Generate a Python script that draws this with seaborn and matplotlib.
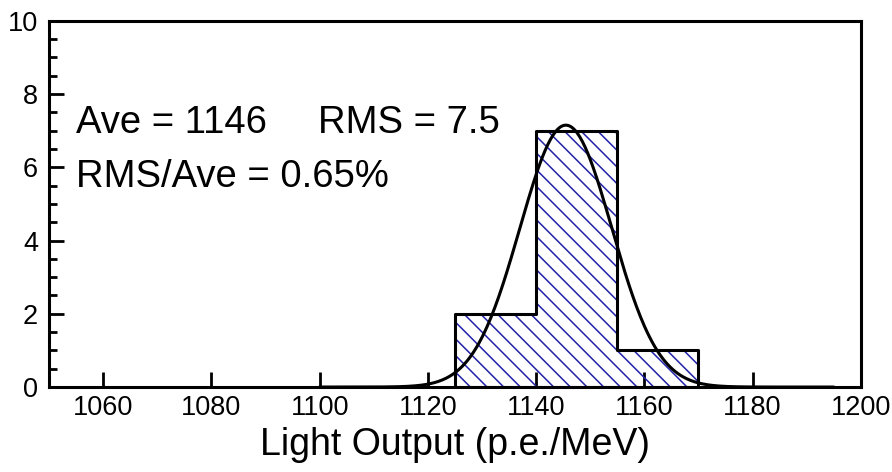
import numpy as np
import pandas as pd
import matplotlib
matplotlib.use("Agg")
import matplotlib.pyplot as plt
import seaborn as sns

# histogram bins (p.e./MeV) and counts
bin_edges = [1125, 1140, 1155, 1170]
counts = [2, 7, 1]

# gaussian fit drawn over the histogram
fit_mean = 1145.5
fit_sigma = 8.5
fit_amp = 7.15

x_ticks = [1060, 1080, 1100, 1120, 1140, 1160, 1180, 1200]
y_ticks = [0, 2, 4, 6, 8, 10]

sns.set_style("white")
plt.rcParams['font.family'] = ['Liberation Sans', 'DejaVu Sans']
plt.rcParams['hatch.linewidth'] = 1.1
plt.rcParams['text.color'] = 'black'
plt.rcParams['xtick.color'] = 'black'
plt.rcParams['ytick.color'] = 'black'
plt.rcParams['axes.labelcolor'] = 'black'

centers = [(a + b) / 2 for a, b in zip(bin_edges[:-1], bin_edges[1:])]
df = pd.DataFrame({'light': centers, 'n': counts})

fig, ax = plt.subplots(figsize=(8.92, 4.72), dpi=100)
fig.subplots_adjust(left=0.055, right=0.965, bottom=0.18, top=0.956)

# hatched fill
sns.histplot(data=df, x='light', weights='n', bins=bin_edges, ax=ax,
             element='bars', fill=True, color='#2222aa', facecolor='none',
             edgecolor='#2222aa', linewidth=0, hatch='\\\\', alpha=1)
# black outline (closed step polygon)
sns.histplot(data=df, x='light', weights='n', bins=bin_edges, ax=ax,
             element='step', fill=True, color='black', facecolor='none',
             edgecolor='black', linewidth=2.2, alpha=1)

# fit curve
xs = np.linspace(1100, 1195, 400)
ys = fit_amp * np.exp(-(xs - fit_mean) ** 2 / (2 * fit_sigma ** 2))
sns.lineplot(x=xs, y=ys, ax=ax, color='black', linewidth=2.2)

ax.set_xlim(1050, 1200)
ax.set_ylim(0, 10)
ax.set_xticks(x_ticks)
ax.set_yticks(y_ticks)
ax.set_yticks(np.arange(0, 10.01, 0.5), minor=True)
ax.tick_params(axis='both', which='major', direction='in', labelsize=19.5,
               width=2, length=11, bottom=True, left=True)
ax.tick_params(axis='x', pad=6)
ax.tick_params(axis='y', pad=8)
ax.tick_params(axis='y', which='minor', direction='in', width=2, length=6, left=True)
ax.tick_params(axis='x', which='minor', bottom=False)
for s in ax.spines.values():
    s.set_linewidth(2.2)
    s.set_color('black')

ax.set_xlabel('Light Output (p.e./MeV)', fontsize=27, labelpad=4)
ax.set_ylabel('')

ax.text(1055, 6.93, 'Ave = 1146', fontsize=27.5)
ax.text(1099.7, 6.93, 'RMS = 7.5', fontsize=27.5)
ax.text(1055, 5.46, 'RMS/Ave = 0.65%', fontsize=27.5)

plt.savefig('out.png', dpi=100)
